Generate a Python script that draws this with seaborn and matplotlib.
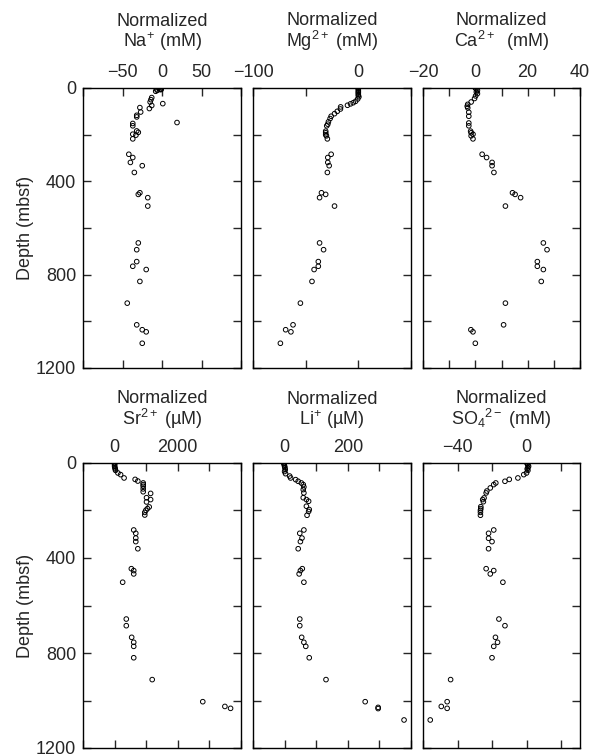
import matplotlib
matplotlib.use("Agg")
import matplotlib.pyplot as plt
import seaborn as sns
import pandas as pd
from matplotlib.ticker import FixedLocator, MultipleLocator

# ---------------- data ----------------
na_depth = [0, 4, 4, 6, 10, 7, 14, 41, 50, 60, 67, 75, 88, 84, 103, 117, 124, 148, 152, 162, 184, 190,
            198, 202, 218, 284, 298, 319, 333, 362, 449, 456, 470, 506, 664, 693, 744, 764, 778, 829,
            922, 1015, 1036, 1045, 1094]
na_val = [-4, -7, -3, -1, -6, -2, -8, -13, -14, -15, 1, -13, -16, -28, -27, -32, -32, 19, -37, -37, -32,
          -30, -37, -33, -37, -42, -37, -40, -25, -35, -28, -30, -18, -18, -30, -32, -32, -37, -20, -28,
          -44, -32, -25, -20, -25]

mg_depth = [0, 4, 10, 16, 21, 27, 33, 38, 47, 57, 63, 68, 74, 81, 90, 100, 110, 121, 131, 145, 155, 162,
            185, 192, 200, 205, 218, 284, 298, 319, 333, 362, 449, 456, 470, 506, 664, 693, 744, 764,
            778, 829, 922, 1015, 1036, 1045, 1094]
mg_val = [0, 0, 0, 0, 0, 0, 0, 0.5, -0.6, -2.6, -4.8, -7.4, -10.3, -16.8, -17, -20, -22.6, -25.8, -26.8,
          -28.4, -29, -30, -31, -31, -31, -30.3, -29.4, -25.8, -29, -29, -27.7, -29.4, -35, -31, -36.8,
          -22.6, -36.8, -33, -38, -38, -42, -44, -55, -62, -69, -64, -74]

ca_depth = [0, 3, 10, 17, 24, 34, 45, 60, 70, 78, 85, 104, 121, 150, 162, 185, 192, 198, 205, 218,
            284, 298, 319, 333, 362, 449, 456, 470, 506, 664, 693, 744, 764, 778, 829, 922, 1015,
            1036, 1045, 1094]
ca_val = [0, 0.3, 0.8, 0.4, 0.8, 0.1, -0.3, -1.6, -2.9, -3.1, -2.9, -2.5, -2.5, -2.5, -2.5, -1.8, -1.6,
          -0.9, -1.6, -0.9, 2.6, 4.3, 6.4, 6.4, 7.1, 14.2, 15.2, 17.3, 11.5, 26, 27.4, 23.7, 23.7, 26,
          25.2, 11.5, 10.8, -1.7, -0.9, 0]

sr_depth = [0, 3, 8, 14, 20, 25, 31, 42, 49, 63, 69, 76, 84, 91, 98, 109, 121, 128, 146, 154, 164, 185,
            192, 199, 208, 219, 282, 296, 316, 331, 361, 445, 453, 467, 502, 657, 685, 734, 755, 772,
            820, 912, 1005, 1025, 1033]
sr_val = [0, 0, 0, 0, 10, 20, 30, 105, 190, 300, 650, 735, 905, 905, 905, 905, 905, 1140, 1010, 1140,
          1010, 1095, 1040, 990, 955, 955, 605, 670, 670, 670, 735, 530, 605, 605, 255, 370, 370, 540,
          605, 605, 605, 1190, 2790, 3490, 3670]

li_depth = [0, 3, 8, 14, 20, 28, 36, 45, 55, 63, 70, 77, 84, 91, 101, 112, 126, 146, 154, 161, 182, 196,
            204, 220, 282, 296, 316, 331, 361, 445, 453, 467, 502, 657, 685, 734, 755, 772, 820, 912,
            1005, 1029, 1034, 1082]
li_val = [-2, -2, -1, 0, 1, 2, 0, 3, 16, 19, 35, 43, 53, 59, 61, 59, 61, 59, 69, 76, 69, 78, 76, 71, 61,
          48, 55, 50, 43, 56, 50, 46, 61, 48, 48, 54, 61, 67, 78, 131, 255, 296, 296, 378]

so4_depth = [0, 3, 8, 14, 20, 25, 31, 42, 49, 63, 69, 77, 84, 91, 105, 118, 126, 147, 154, 163, 184,
             192, 199, 208, 220, 282, 296, 317, 331, 361, 445, 453, 467, 502, 657, 685, 734, 755, 772,
             820, 912, 1005, 1025, 1033, 1082]
so4_val = [0.4, 0.4, 0.8, 1.2, 0.8, 0.4, 0.8, 0, -1.6, -5, -10, -12.5, -17.8, -19, -21, -23, -23.4,
           -24.6, -25.4, -25, -26.5, -26.5, -26.7, -26.7, -26.7, -19, -22, -22, -20, -22, -23.4, -19,
           -21, -13.7, -16, -12.5, -18, -16.8, -19, -20, -44, -46, -49.4, -46, -55.8]

titles = ["Normalized\nNa$^{+}$ (mM)", "Normalized\nMg$^{2+}$ (mM)", "Normalized\nCa$^{2+}$  (mM)",
          "Normalized\nSr$^{2+}$ (µM)", "Normalized\nLi$^{+}$ (µM)", "Normalized\nSO$_{4}$$^{2-}$ (mM)"]
x_limits = [(-100, 100), (-100, 50), (-20, 40), (-1000, 4000), (-100, 400), (-60, 31)]
x_labels = [[-50, 0, 50], [-100, 0], [-20, 0, 20, 40], [0, 2000], [0, 200], [-40, 0]]
x_steps = [50, 50, 10, 1000, 100, 20]
y_labels = [0, 400, 800, 1200]

depths = [na_depth, mg_depth, ca_depth, sr_depth, li_depth, so4_depth]
values = [na_val, mg_val, ca_val, sr_val, li_val, so4_val]

# ---------------- style ----------------
sns.set_style("ticks")
plt.rcParams["font.family"] = ["Liberation Sans", "DejaVu Sans"]
plt.rcParams["mathtext.fontset"] = "custom"
plt.rcParams["mathtext.rm"] = "Liberation Sans"
plt.rcParams["mathtext.it"] = "Liberation Sans:italic"
plt.rcParams["mathtext.default"] = "regular"
FS = 13

W, H = 589, 754
fig = plt.figure(figsize=(W / 100, H / 100), dpi=100)

col_px = [(83, 241), (253, 411), (423, 580)]
row_px = [(88, 368), (463, 748)]
title_gap = [35, 32]

for i in range(6):
    r, c = divmod(i, 3)
    x0, x1 = col_px[c]
    y0, y1 = row_px[r]
    ax = fig.add_axes([x0 / W, 1 - y1 / H, (x1 - x0) / W, (y1 - y0) / H])
    df = pd.DataFrame({"value": values[i], "depth": depths[i]})
    sns.scatterplot(data=df, x="value", y="depth", ax=ax, marker="o", s=11,
                    facecolor="none", edgecolor="black", linewidth=0.7, legend=False)
    ax.set_xlim(*x_limits[i])
    ax.set_ylim(1200, 0)
    ax.xaxis.set_major_locator(FixedLocator(x_labels[i]))
    ax.xaxis.set_minor_locator(MultipleLocator(x_steps[i]))
    ax.yaxis.set_major_locator(FixedLocator(y_labels))
    ax.yaxis.set_minor_locator(MultipleLocator(200))
    ax.xaxis.tick_top()
    ax.tick_params(axis="both", which="both", direction="in", length=6, width=1,
                   top=True, bottom=True, left=True, right=True, labelsize=FS, pad=5)
    ax.tick_params(axis="x", labeltop=True, labelbottom=False)
    ax.set_xlabel("")
    for sp in ax.spines.values():
        sp.set_linewidth(1)
        sp.set_color("black")
    if c == 0:
        ax.set_ylabel("Depth (mbsf)", fontsize=FS, labelpad=1)
    else:
        ax.set_ylabel("")
        ax.tick_params(axis="y", labelleft=False)
    off = title_gap[r] / (y1 - y0)
    ax.text(0.5, 1 + off, titles[i], transform=ax.transAxes, ha="center", va="bottom",
            fontsize=FS, linespacing=1.0)

fig.savefig("out.png", dpi=100)
